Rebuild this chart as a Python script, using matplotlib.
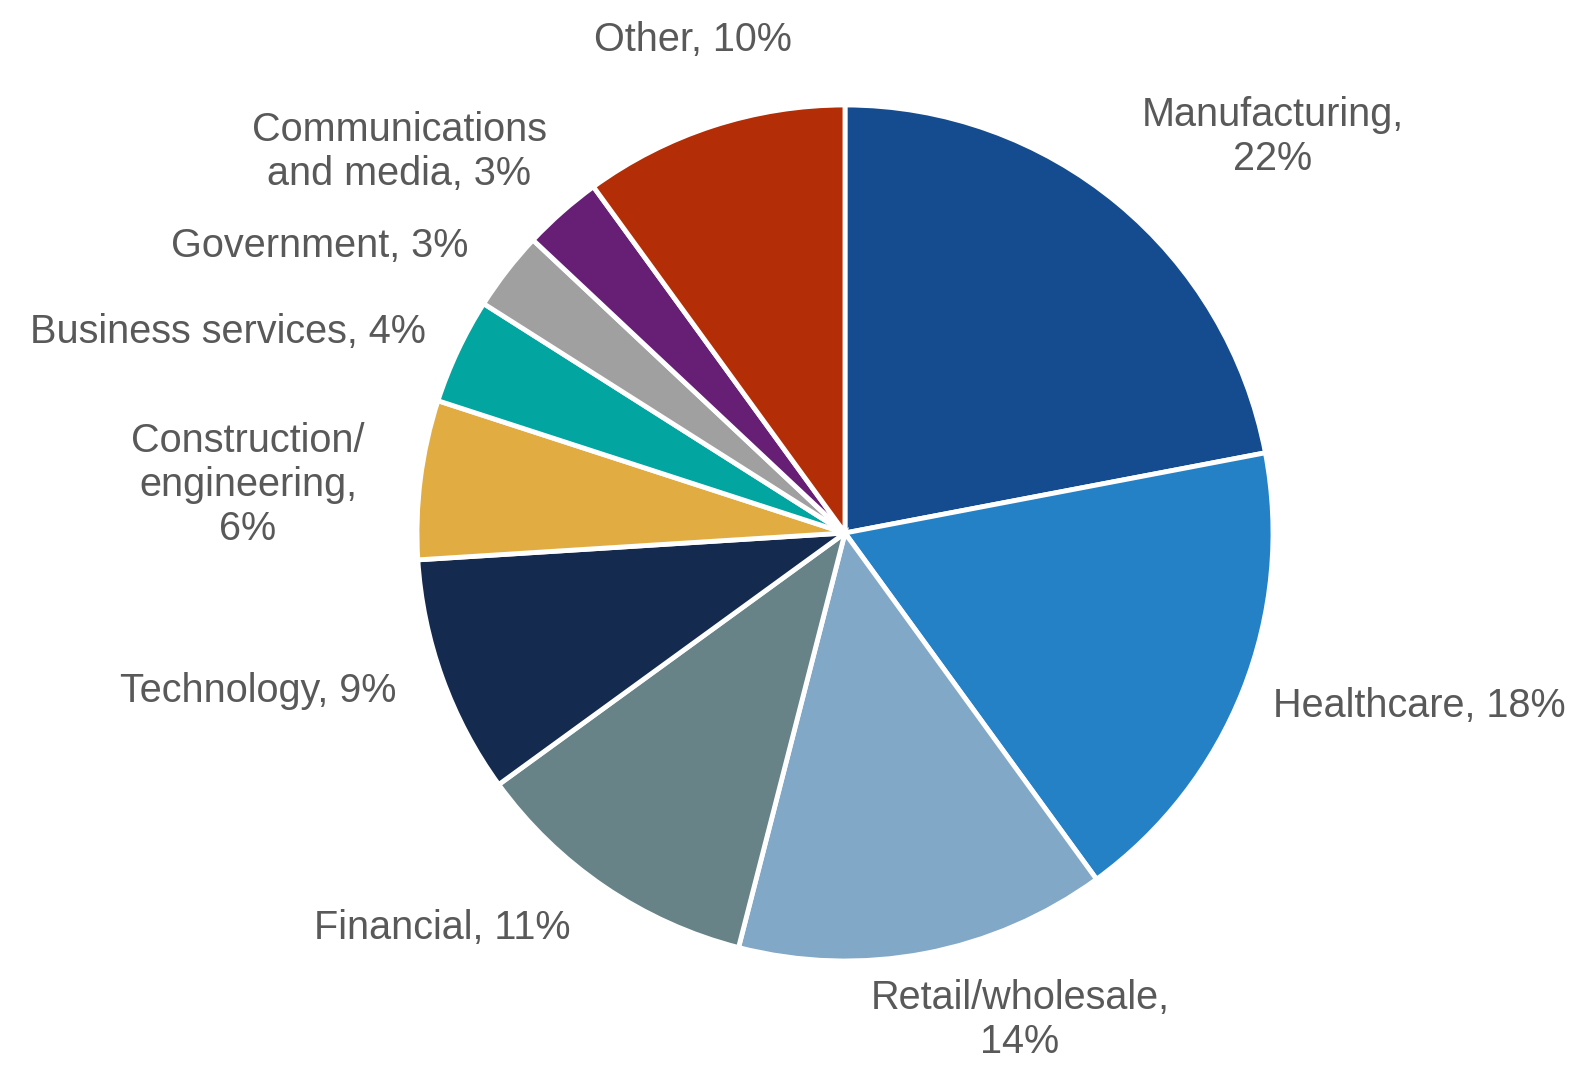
import matplotlib
matplotlib.use("Agg")
import matplotlib.pyplot as plt

# data
sectors = ["Manufacturing", "Healthcare", "Retail/wholesale", "Financial",
           "Technology", "Construction/\nengineering", "Business services",
           "Government", "Communications\nand media", "Other"]
shares = [22, 18, 14, 11, 9, 6, 4, 3, 3, 10]
label_texts = ["Manufacturing,\n22%", "Healthcare, 18%", "Retail/wholesale,\n14%",
               "Financial, 11%", "Technology, 9%", "Construction/\nengineering,\n6%",
               "Business services, 4%", "Government, 3%",
               "Communications\nand media, 3%", "Other, 10%"]
colors = ["#154C8F", "#2581C6", "#82A8C7", "#678387", "#142B4F",
          "#E1AC42", "#02A59F", "#A0A0A0", "#671E75", "#B32D06"]

# label centres, in pie-radius units from the centre
label_pos = [(1.000, 0.925), (1.343, -0.404), (0.409, -1.138), (-0.942, -0.923),
             (-1.371, -0.369), (-1.395, 0.112), (-1.442, 0.470), (-1.227, 0.671),
             (-1.042, 0.890), (-0.355, 1.152)]

plt.rcParams['font.family'] = ['Liberation Sans', 'DejaVu Sans']

fig = plt.figure(figsize=(15.77, 10.70), dpi=100)
ax = fig.add_axes([0, 0, 1, 1])

ax.pie(shares, colors=colors, startangle=90, counterclock=False, radius=1,
       wedgeprops=dict(edgecolor="white", linewidth=3.5))

for txt, (x, y) in zip(label_texts, label_pos):
    ax.text(x, y, txt, ha="center", va="center", fontsize=28.5,
            color="#595959", linespacing=1.2)

ax.set_xlim(-1.974, 1.710)
ax.set_ylim(-1.2547, 1.2453)
ax.set_aspect("equal")
ax.axis("off")

fig.savefig("out.png", dpi=100)
